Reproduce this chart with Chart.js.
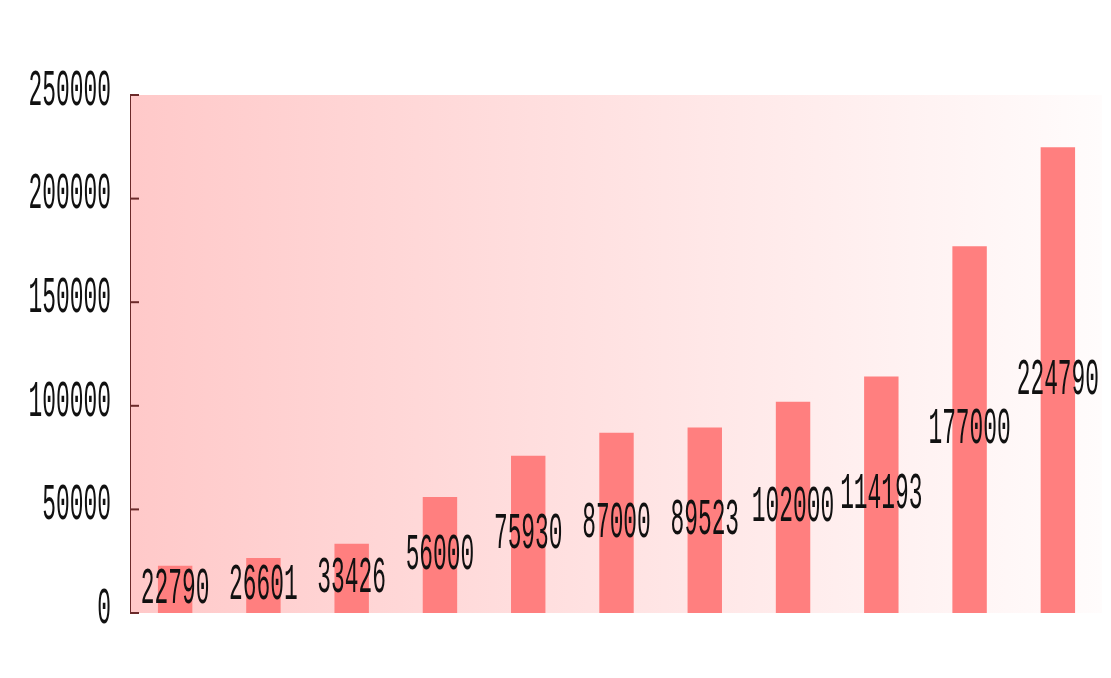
<!DOCTYPE html>
<html>
<head>
<meta charset="utf-8">
<script src="https://cdn.jsdelivr.net/npm/chart.js@4/dist/chart.umd.min.js"></script>
<style>
  html, body { margin: 0; padding: 0; background: #fff; }
  #wrap { width: 1111px; height: 678px; position: relative; }
</style>
</head>
<body>
<div id="wrap"><canvas id="chart"></canvas></div>
<script>
// Chart data
const categories = ['1', '2', '3', '4', '5', '6', '7', '8', '9', '10', '11'];
const values = [22790, 26601, 33426, 56000, 75930, 87000, 89523, 102000, 114193, 177000, 224790];
const yTicks = [0, 50000, 100000, 150000, 200000, 250000];

const FONT = '52px "Liberation Mono"';
const SCALE_X = 0.44;

// draw condensed (tall, narrow) text like the original
function drawTallText(ctx, text, x, y, align) {
  ctx.save();
  ctx.font = FONT;
  ctx.textBaseline = 'middle';
  ctx.fillStyle = '#111';
  const w = ctx.measureText(text).width * SCALE_X;
  let left = x - w / 2;
  if (align === 'right') left = x - w;
  ctx.translate(left, y);
  ctx.scale(SCALE_X, 1);
  ctx.textAlign = 'left';
  ctx.fillText(text, 0, 0);
  ctx.restore();
}

// gradient background behind the plot area
const backgroundPlugin = {
  id: 'plotBackground',
  beforeDatasetsDraw(chart) {
    const { ctx, chartArea } = chart;
    const g = ctx.createLinearGradient(chartArea.left, 0, chartArea.right, 0);
    g.addColorStop(0, '#ffc9c9');
    g.addColorStop(1, '#fffcfc');
    ctx.save();
    ctx.fillStyle = g;
    ctx.fillRect(chartArea.left, chartArea.top, chartArea.right - chartArea.left, chartArea.bottom - chartArea.top);
    ctx.restore();
  },
};

// y tick labels, inner tick marks and value labels
const labelsPlugin = {
  id: 'tallLabels',
  afterDatasetsDraw(chart) {
    const { ctx } = chart;
    const y = chart.scales.y;
    ctx.save();
    ctx.strokeStyle = '#6b2a2a';
    ctx.lineWidth = 2;
    yTicks.forEach((t) => {
      const py = y.getPixelForValue(t);
      ctx.beginPath();
      ctx.moveTo(y.right, py);
      ctx.lineTo(y.right + 8, py);
      ctx.stroke();
      drawTallText(ctx, String(t), y.right - 20, py - 4, 'right');
    });
    ctx.restore();

    const meta = chart.getDatasetMeta(0);
    meta.data.forEach((bar, i) => {
      const mid = (bar.y + bar.base) / 2;
      drawTallText(ctx, String(values[i]), bar.x, mid, 'center');
    });
  },
};

new Chart(document.getElementById('chart'), {
  type: 'bar',
  data: {
    labels: categories,
    datasets: [
      {
        data: values,
        backgroundColor: '#ff7f7f',
        borderWidth: 0,
        barPercentage: 0.39,
        categoryPercentage: 1,
      },
    ],
  },
  options: {
    responsive: true,
    maintainAspectRatio: false,
    animation: false,
    layout: { padding: { top: 95, right: 9, bottom: 65, left: 0 } },
    plugins: {
      legend: { display: false },
      tooltip: { enabled: false },
    },
    scales: {
      x: { display: false },
      y: {
        min: 0,
        max: 250000,
        afterFit(scale) { scale.width = 131; },
        ticks: { display: false, stepSize: 50000 },
        grid: { display: false },
        border: { display: true, color: '#6b2a2a', width: 2 },
      },
    },
  },
  plugins: [backgroundPlugin, labelsPlugin],
});
</script>
</body>
</html>
